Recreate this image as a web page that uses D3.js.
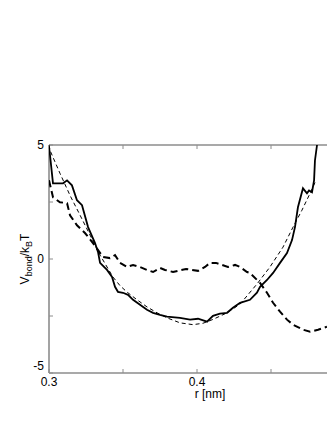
<!DOCTYPE html>
<html>
<head>
<meta charset="utf-8">
<script src="https://cdn.jsdelivr.net/npm/d3@7"></script>
<style>
  body { margin: 0; background: #fff; }
  svg { display: block; font-family: "Liberation Sans", Arial, sans-serif; }
</style>
</head>
<body>
<svg id="chart"></svg>
<script>
// simulated bond potential (solid)
const rSim = [0.300,0.3007,0.3027,0.3095,0.3122,0.3155,0.3189,0.3223,0.3264,0.3311,0.3331,0.3345,0.3392,0.3426,0.3446,0.3466,0.3500,0.3534,0.3568,0.3615,0.3662,0.3703,0.3750,0.3797,0.3885,0.3953,0.4007,0.4068,0.4108,0.4155,0.4203,0.4243,0.4291,0.4358,0.4405,0.4426,0.4473,0.4514,0.4561,0.4608,0.4642,0.4662,0.4682,0.4716,0.4743,0.4757,0.4777,0.4791,0.4797,0.4811];
const vSim = [4.93,4.54,3.32,3.32,3.45,3.23,2.58,2.36,1.40,0.70,0.31,-0.17,-0.48,-0.79,-1.22,-1.44,-1.48,-1.57,-1.79,-2.01,-2.23,-2.36,-2.45,-2.53,-2.58,-2.66,-2.62,-2.75,-2.49,-2.40,-2.36,-2.14,-1.92,-1.79,-1.48,-1.22,-0.92,-0.61,-0.17,0.26,0.83,1.40,2.27,3.10,2.88,3.01,2.93,3.45,4.32,5.0];

// fitted potential (thin dashed)
const rFit = [0.300,0.3007,0.3074,0.3142,0.3210,0.3277,0.3345,0.3432,0.3480,0.3527,0.3595,0.3662,0.3730,0.3797,0.3885,0.3973,0.4040,0.4108,0.4203,0.4291,0.4405,0.4493,0.4581,0.4649,0.4709,0.4764,0.4804];
const vFit = [5.0,4.76,3.76,2.79,1.92,1.05,0.17,-0.79,-1.17,-1.45,-1.79,-2.10,-2.36,-2.58,-2.80,-2.88,-2.82,-2.65,-2.36,-1.98,-1.10,-0.35,0.52,1.40,2.14,2.88,3.45];

// other potential (thick dashed)
const rAlt = [0.300,0.3027,0.3074,0.3122,0.3142,0.3189,0.3243,0.3297,0.3365,0.3412,0.3446,0.3480,0.3527,0.3568,0.3615,0.3662,0.3703,0.3750,0.3784,0.3838,0.3926,0.4007,0.4054,0.4088,0.4128,0.4209,0.4257,0.4291,0.4338,0.4358,0.4426,0.4473,0.4514,0.4561,0.4608,0.4649,0.4716,0.4764,0.4818,0.4878];
const vAlt = [3.45,2.71,2.49,2.45,1.92,1.48,1.14,0.70,0.09,0.04,0.17,-0.17,-0.35,-0.26,-0.35,-0.48,-0.57,-0.39,-0.48,-0.57,-0.44,-0.52,-0.35,-0.17,-0.17,-0.35,-0.26,-0.35,-0.57,-0.61,-1.05,-1.48,-1.92,-2.31,-2.66,-2.88,-3.10,-3.19,-3.10,-2.97];

const xTicks = [0.3, 0.35, 0.4, 0.45, 0.5];
const xLabels = [0.3, 0.4];
const yTicks = [-5, -2.5, 0, 2.5, 5];
const yLabels = [-5, 0, 5];

const W = 327, H = 423;
const svg = d3.select('#chart').attr('width', W).attr('height', H);

const x = d3.scaleLinear().domain([0.3, 0.5]).range([49, 345]);
const y = d3.scaleLinear().domain([-5, 5]).range([373, 145]);

svg.append('defs').append('clipPath').attr('id', 'plot')
  .append('rect').attr('x', x(0.3)).attr('y', y(5) - 1)
  .attr('width', x(0.5) - x(0.3)).attr('height', y(-5) - y(5) + 2);

const axisColor = '#8c8c8c';
const g = svg.append('g');

// frame
g.append('line').attr('x1', x(0.3)).attr('x2', x(0.5)).attr('y1', y(5)).attr('y2', y(5))
  .attr('stroke', axisColor).attr('stroke-width', 1.6);
g.append('line').attr('x1', x(0.3)).attr('x2', x(0.5)).attr('y1', y(-5)).attr('y2', y(-5))
  .attr('stroke', axisColor).attr('stroke-width', 1.6);
g.append('line').attr('x1', x(0.3)).attr('x2', x(0.3)).attr('y1', y(5)).attr('y2', y(-5))
  .attr('stroke', axisColor).attr('stroke-width', 1.6);

// ticks, pointing inward
g.selectAll('.tb').data(xTicks).join('line')
  .attr('x1', d => x(d)).attr('x2', d => x(d))
  .attr('y1', y(-5)).attr('y2', y(-5) - 4)
  .attr('stroke', axisColor).attr('stroke-width', 1);
g.selectAll('.tt').data(xTicks).join('line')
  .attr('x1', d => x(d)).attr('x2', d => x(d))
  .attr('y1', y(5)).attr('y2', y(5) + 4)
  .attr('stroke', axisColor).attr('stroke-width', 1);
g.selectAll('.tl').data(yTicks).join('line')
  .attr('x1', x(0.3)).attr('x2', x(0.3) + 4)
  .attr('y1', d => y(d)).attr('y2', d => y(d))
  .attr('stroke', axisColor).attr('stroke-width', 1);

// tick labels
g.selectAll('.xl').data(xLabels).join('text')
  .attr('x', d => x(d)).attr('y', y(-5) + 13)
  .attr('text-anchor', 'middle').attr('font-size', 12)
  .text(d => d.toFixed(1));
g.selectAll('.yl').data(yLabels).join('text')
  .attr('x', x(0.3) - 5)
  .attr('y', d => d === -5 ? y(d) - 3 : y(d) + 4)
  .attr('text-anchor', 'end').attr('font-size', 12)
  .text(d => d);

// axis titles
g.append('text').attr('x', 210).attr('y', 398)
  .attr('text-anchor', 'middle').attr('font-size', 12).text('r [nm]');

const yt = g.append('text')
  .attr('transform', `translate(29,${y(0)}) rotate(-90)`)
  .attr('text-anchor', 'middle').attr('font-size', 12);
yt.append('tspan').text('V');
yt.append('tspan').attr('font-size', 9).attr('dy', 3).text('bond');
yt.append('tspan').attr('dy', -3).text('/k');
yt.append('tspan').attr('font-size', 9).attr('dy', 3).text('B');
yt.append('tspan').attr('dy', -3).text('T');

// curves
const line = d3.line().x(d => x(d[0])).y(d => y(d[1]));
const plot = svg.append('g').attr('clip-path', 'url(#plot)');

plot.append('path').datum(d3.zip(rAlt, vAlt))
  .attr('d', line).attr('fill', 'none').attr('stroke', '#000')
  .attr('stroke-width', 2).attr('stroke-dasharray', '7,4');

plot.append('path').datum(d3.zip(rFit, vFit))
  .attr('d', line).attr('fill', 'none').attr('stroke', '#000')
  .attr('stroke-width', 1).attr('stroke-dasharray', '4,3');

plot.append('path').datum(d3.zip(rSim, vSim))
  .attr('d', line).attr('fill', 'none').attr('stroke', '#000')
  .attr('stroke-width', 1.8);
</script>
</body>
</html>
